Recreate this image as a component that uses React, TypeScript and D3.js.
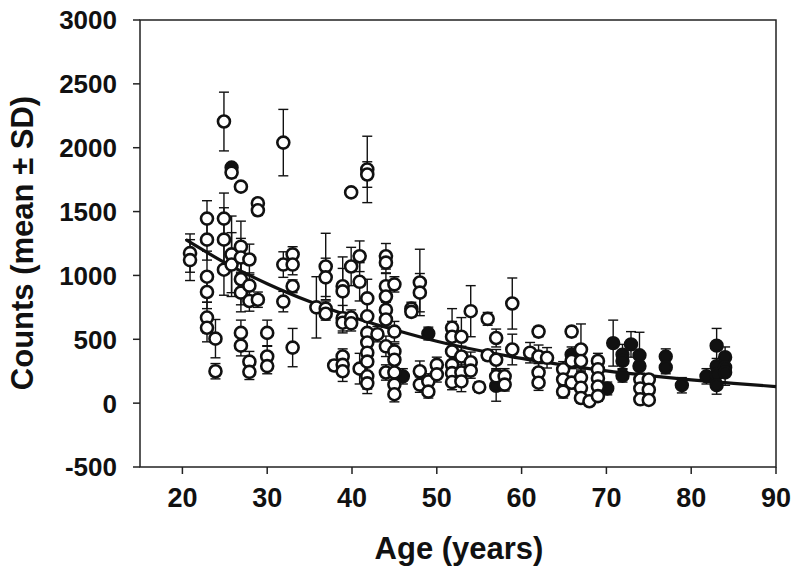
import React from "react";
import * as d3 from "d3";

// Open circles: [age, mean, sd]
const openAge = [
  20.9, 20.9,
  22.9, 22.9, 22.9, 22.9, 22.9, 22.9,
  23.9, 23.9,
  24.9, 24.9, 24.9, 24.9,
  25.8, 25.8, 25.8,
  26.9, 26.9, 26.9, 26.9, 26.9, 26.9, 26.9,
  27.9, 27.9, 27.9, 27.9, 27.9,
  28.9, 28.9, 28.9,
  30.0, 30.0, 30.0,
  31.9, 31.9, 31.9,
  33.0, 33.0, 33.0, 33.0,
  35.8,
  36.9, 36.9, 36.9, 36.9,
  37.9,
  38.9, 38.9, 38.9, 38.9, 38.9, 38.9, 38.9,
  39.9, 39.9, 39.9, 39.9,
  40.9, 40.9, 40.9,
  41.8, 41.8, 41.8, 41.8, 41.8, 41.8, 41.8, 41.8, 41.8, 41.8,
  43.0,
  44.0, 44.0, 44.0, 44.0, 44.0, 44.0, 44.0, 44.0,
  45.0, 45.0, 45.0, 45.0, 45.0, 45.0, 45.0,
  47.0, 47.0,
  48.0, 48.0, 48.0, 48.0,
  49.0, 49.0,
  50.0, 50.0,
  51.8, 51.8, 51.8, 51.8, 51.8, 51.8,
  52.9, 52.9, 52.9, 52.9,
  54.0, 54.0, 54.0,
  55.0,
  56.0, 56.0,
  57.0, 57.0, 57.0,
  58.0, 58.0,
  58.9, 58.9,
  61.0,
  62.0, 62.0, 62.0, 62.0,
  63.0,
  64.9, 64.9, 64.9,
  65.9, 65.9, 65.9,
  67.0, 67.0, 67.0, 67.0, 67.0,
  68.0,
  69.0, 69.0, 69.0, 69.0, 69.0,
  74.0, 74.0, 74.0,
  75.0, 75.0, 75.0,
];
const openMean = [
  1175, 1120,
  1445, 1280, 990, 870, 670, 590,
  505, 250,
  2205, 1445, 1280, 1045,
  1805, 1165, 1085,
  1695, 1225, 1140, 970, 865, 550, 450,
  1125, 920, 800, 325, 245,
  1565, 1510, 810,
  550, 365, 290,
  2040, 1085, 795,
  1165, 1085, 915, 435,
  750,
  1070, 985, 740, 700,
  295,
  915, 875, 665, 630, 365, 300, 250,
  1650, 1070, 670, 625,
  1150, 950, 270,
  1830, 1790, 820, 680, 550, 475, 395, 325, 210, 155,
  540,
  1150, 1100, 915, 835, 730, 655, 445, 240,
  930, 560, 405, 340, 240, 145, 70,
  740, 715,
  945, 865, 250, 145,
  170, 90,
  300, 225,
  590, 520, 405, 300, 235, 165,
  520, 365, 240, 170,
  720, 320, 255,
  125,
  660, 375,
  510, 340, 210,
  210, 145,
  780, 420,
  395,
  560, 365, 240, 160,
  355,
  265, 185, 90,
  560, 330, 160,
  420, 330, 200, 120, 40,
  15,
  330, 265, 195, 130, 55,
  185, 115, 30,
  185, 105, 25,
];
const openSd = [
  150, 160,
  140, 160, 200, 130, 120, 110,
  150, 60,
  230, 200, 250, 200,
  40, 300, 250,
  30, 200, 150, 200, 150, 100, 80,
  120, 100, 80, 80, 60,
  30, 40, 60,
  100, 80, 60,
  260, 100, 80,
  60, 80, 50, 150,
  240,
  260, 150, 60, 50,
  40,
  230, 180, 100, 80, 60, 60, 80,
  30, 150, 60, 60,
  120, 150, 120,
  260, 100, 150, 120, 100, 100, 80, 80, 100, 80,
  60,
  100, 80, 100, 80, 60, 60, 80, 60,
  60, 80, 60, 80, 60, 80, 60,
  50, 40,
  260, 150, 80, 60,
  60, 50,
  60, 60,
  150, 120, 100, 80, 60, 60,
  150, 80, 60, 80,
  200, 80, 60,
  40,
  50, 40,
  70, 80, 60,
  60, 50,
  200, 120,
  80,
  40, 90, 70, 60,
  80,
  60, 50, 50,
  40, 60, 50,
  200, 80, 60, 50, 40,
  30,
  60, 60, 50, 50, 40,
  50, 40, 30,
  40, 40, 30,
];

// Filled circles
const filledAge = [25.8, 46.0, 49.0, 57.0, 65.9, 70.1, 70.8, 71.9, 71.9, 71.9, 72.9, 73.9, 73.9, 74.8, 77.0, 77.0, 78.9, 81.8, 83.0, 83.0, 83.0, 83.0, 84.0, 84.0, 84.0];
const filledMean = [1845, 210, 545, 135, 380, 115, 470, 380, 330, 215, 460, 375, 290, 105, 365, 280, 140, 210, 450, 290, 225, 140, 360, 280, 240];
const filledSd = [30, 60, 50, 120, 60, 50, 180, 80, 60, 50, 100, 180, 60, 50, 60, 50, 60, 60, 135, 60, 50, 70, 80, 60, 100];

// Fitted curve
const fitAge = [20.4, 25, 30, 35, 40, 45, 50, 55, 60, 65, 70, 75, 80, 85, 90];
const fitCounts = [1280, 1100, 935, 795, 675, 575, 485, 412, 350, 298, 252, 215, 182, 155, 130];

const xTicks = [20, 30, 40, 50, 60, 70, 80, 90];
const yTicks = [-500, 0, 500, 1000, 1500, 2000, 2500, 3000];

const FONT = "'Liberation Sans', Arial, Helvetica, sans-serif";

export default function App() {
  const W = 800, H = 582;
  const L = 140, R = 776, T = 20, B = 467;
  const x = d3.scaleLinear().domain([15, 90]).range([L, R]);
  const y = d3.scaleLinear().domain([-500, 3000]).range([B, T]);

  const line = d3
    .line<number>()
    .x((_, i) => x(fitAge[i]))
    .y((v) => y(v))
    .curve(d3.curveMonotoneX);

  const open = openAge.map((a, i) => ({ a, m: openMean[i], s: openSd[i] }));
  const filled = filledAge.map((a, i) => ({ a, m: filledMean[i], s: filledSd[i] }));
  const all = [...filled, ...open];
  const cap = 5;

  return (
    <svg width={W} height={H} style={{ position: "absolute", left: 0, top: 0, background: "#fff" }}>
      <rect x={0} y={0} width={W} height={H} fill="#fff" />
      {/* frame */}
      <rect x={L} y={T} width={R - L} height={B - T} fill="none" stroke="#222" strokeWidth={1.5} />
      {yTicks.map((t) => (
        <g key={"y" + t}>
          <line x1={L - 7} x2={L} y1={y(t)} y2={y(t)} stroke="#222" strokeWidth={1.5} />
          <text x={117} y={y(t)} dy="0.36em" textAnchor="end" fontFamily={FONT} fontWeight="bold" fontSize={26} fill="#111">
            {t}
          </text>
        </g>
      ))}
      {xTicks.map((t) => (
        <g key={"x" + t}>
          <line x1={x(t)} x2={x(t)} y1={B} y2={B + 7} stroke="#222" strokeWidth={1.5} />
          <text x={x(t)} y={507} textAnchor="middle" fontFamily={FONT} fontWeight="bold" fontSize={27} fill="#111">
            {t}
          </text>
        </g>
      ))}
      <text x={459} y={559} textAnchor="middle" fontFamily={FONT} fontWeight="bold" fontSize={31} fill="#111">
        Age (years)
      </text>
      <text
        transform={`translate(33,243) rotate(-90)`}
        textAnchor="middle"
        fontFamily={FONT}
        fontWeight="bold"
        fontSize={31}
        fill="#111"
      >
        Counts (mean ± SD)
      </text>

      {/* fitted curve */}
      <path d={line(fitCounts) || ""} fill="none" stroke="#111" strokeWidth={3.2} />

      {/* error bars */}
      {all.map((p, i) => (
        <g key={"e" + i} stroke="#111" strokeWidth={1.4}>
          <line x1={x(p.a)} x2={x(p.a)} y1={y(p.m - p.s)} y2={y(p.m + p.s)} />
          <line x1={x(p.a) - cap} x2={x(p.a) + cap} y1={y(p.m + p.s)} y2={y(p.m + p.s)} />
          <line x1={x(p.a) - cap} x2={x(p.a) + cap} y1={y(p.m - p.s)} y2={y(p.m - p.s)} />
        </g>
      ))}
      {/* points */}
      {filled.map((p, i) => (
        <circle key={"f" + i} cx={x(p.a)} cy={y(p.m)} r={6} fill="#111" stroke="#111" strokeWidth={2.4} />
      ))}
      {open.map((p, i) => (
        <circle key={"o" + i} cx={x(p.a)} cy={y(p.m)} r={6} fill="#fff" stroke="#111" strokeWidth={2.6} />
      ))}
    </svg>
  );
}
